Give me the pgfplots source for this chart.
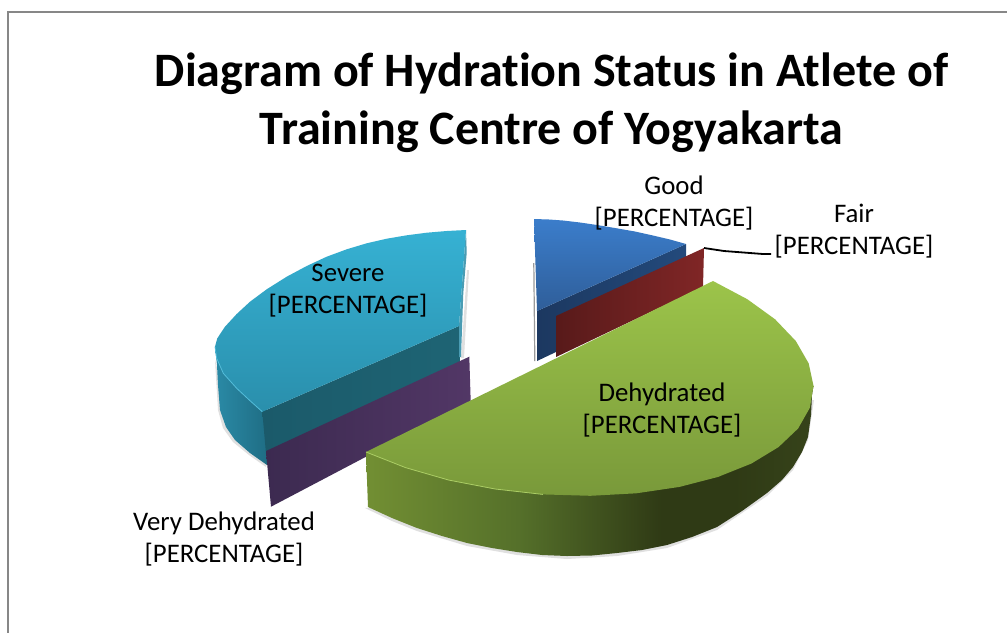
\documentclass[border=0pt]{standalone}
\usepackage{pgfplots}
\pgfplotsset{compat=1.18}
\usepackage{fontspec}
\setmainfont[Ligatures=CommonOff]{Carlito}
\definecolor{gA}{HTML}{728F33}
\definecolor{gB}{HTML}{55702A}
\definecolor{gC}{HTML}{2F3A15}
\definecolor{gD}{HTML}{36431A}
\definecolor{sTop}{HTML}{36B1D3}
\definecolor{sBot}{HTML}{2A8FAC}
\definecolor{sOutL}{HTML}{2A8AA6}
\definecolor{sOutR}{HTML}{1F6D84}
\definecolor{sIn}{HTML}{1B5A6A}
\definecolor{sInR}{HTML}{1E6474}
\definecolor{pL}{HTML}{3C2A50}
\definecolor{pR}{HTML}{523766}
\definecolor{bTop}{HTML}{3B7DCB}
\definecolor{bBot}{HTML}{2F5E99}
\definecolor{bIn}{HTML}{1C3860}
\definecolor{bInR}{HTML}{234A7C}
\definecolor{rL}{HTML}{581A1A}
\definecolor{rR}{HTML}{802626}
\definecolor{grTop}{HTML}{9CC44A}
\definecolor{grBot}{HTML}{79993A}
\pgfdeclarehorizontalshading{greenside}{100bp}{color(0bp)=(gA); color(25bp)=(gA); color(42bp)=(gB); color(58bp)=(gC); color(66bp)=(gC); color(75bp)=(gD); color(100bp)=(gD)}
\begin{document}
\begin{tikzpicture}
\begin{axis}[hide axis, scale only axis, width=1007pt, height=633pt,
  xmin=0, xmax=1007, ymin=0, ymax=633, y dir=reverse]
% page and frame
\addplot[draw=none, fill=white, forget plot] coordinates {(0,0)(1007,0)(1007,633)(0,633)} --cycle;
\addplot[draw=black!47, line width=2pt, forget plot] coordinates {(1007,12)(8,12)(8,633)};

% --- Severe: shadow, outer side, inner wall, thin wall, top
\addplot[draw=none, fill=black!12, forget plot] coordinates {(467,270)(469,270)(464,358)(461,358)} --cycle;
\addplot[draw=none, fill=black!12, forget plot] coordinates {(215,360)(218,410)(223,428)(233,442)(249,455)(266,467)(268,460)(220,380)} --cycle;
\addplot[draw=none, shade, left color=sOutL, right color=sOutR, forget plot] coordinates {(215,346.7)(217,365)(218,385)(220,410)(226,427)(235,440)(250,453)(267,465)(268,412)} --cycle;
\addplot[draw=none, shade, left color=sIn, right color=sInR, forget plot] coordinates {(262.3,411.7)(459,326)(460,362)(266,452)(267,465)} --cycle;
\addplot[draw=none, fill=sOutL!85!white, forget plot] coordinates {(466,230)(466.7,253)(463.3,293)(461,357)(459,357)(459,326)} --cycle;
\addplot[draw=none, shade, top color=sTop, bottom color=sBot, forget plot] coordinates {(466,230)(446.7,231)(426.7,232.7)(406.7,235.3)(386.7,238.7)(366.7,243.3)(346.7,249.3)(326.7,256.7)(306.7,266)(286.7,276.7)(266.7,289.3)(250,301.7)(236.7,314)(225,326.7)(217.3,338.3)(215,346.7)(216.7,358.3)(223.3,373.3)(236.7,388.3)(250,400.7)(262.3,411.7)(459,326)} --cycle;
\addplot[draw=sTop!85!white, line width=0.8pt, forget plot] coordinates {(215,346.7)(216.7,358.3)(223.3,373.3)(236.7,388.3)(250,400.7)(262.3,411.7)};

% --- Very Dehydrated
\addplot[draw=none, shade, left color=pL, right color=pR, forget plot] coordinates {(266,451)(469.3,356.7)(470.7,401.7)(271,506.7)} --cycle;

% --- Good
\addplot[draw=black!40, line width=1.2pt, forget plot] coordinates {(533.8,263)(534.8,361)};
\addplot[draw=none, shade, left color=bIn, right color=bInR, forget plot] coordinates {(537,311)(686,244)(686,262)(556,352)(537,361)} --cycle;
\addplot[draw=none, shade, top color=bTop, bottom color=bBot, forget plot] coordinates {(534,219)(549,219.5)(563,220.5)(580,222.5)(597,225)(615,228)(635,231.5)(653,235.5)(670,239.5)(686,244)(537,311)} --cycle;

% --- Fair
\addplot[draw=none, shade, left color=rL, right color=rR, forget plot] coordinates {(556,316)(704,248)(703,287)(556,357)} --cycle;
\addplot[draw=black, line width=1.8pt, forget plot] coordinates {(704,248)(724,251)(763,254)(771,254)};

% --- Dehydrated
\addplot[draw=none, fill=black!12, forget plot] coordinates {(365,508)(392,521)(417,531)(467,546)(517,555)(567,559)(617,556)(667,548)(717,530)(767,496)(793,470)(808,440)(814,400)(800,400)(500,500)} --cycle;
\addplot[draw=none, shading=greenside, forget plot] coordinates {(368,507)(392,518)(417,528)(442,536)(467,543)(492,548)(517,552)(542,555)(567,556)(592,555.5)(617,553)(642,550)(667,545)(692,537)(717,527)(742,511)(767,493)(782,480)(793,467)(802,452)(808,437)(811,415)(812,395)(813.5,385.8)(366,452)} --cycle;
\addplot[draw=none, shade, top color=grTop, bottom color=grBot, forget plot] coordinates {(713,281)(747.3,299.2)(775.1,319.3)(795.8,341)(808.7,363.4)(813.5,385.8)(809.9,407.7)(798.1,428.5)(778.5,447.1)(751.5,463.5)(718.1,476.9)(679.5,486.9)(636.3,493.3)(590.3,495.8)(542.9,494.4)(495.2,489)(448.9,480.1)(405.5,467.6)(366,452)} --cycle;
\addplot[draw=grTop!85!white, line width=0.8pt, forget plot] coordinates {(366,452)(405.5,467.6)(448.9,480.1)(495.2,489)(542.9,494.4)};

% --- Title and labels
\node[align=center, font=\fontsize{48}{58}\selectfont\bfseries] at (axis cs:551.5,103) {Diagram of Hydration Status in Atlete of\\Training Centre of Yogyakarta};
\node[align=center, font=\fontsize{26.8}{32}\selectfont] at (axis cs:674,203.5) {Good\\{}[PERCENTAGE]};
\node[align=center, font=\fontsize{26.8}{32}\selectfont] at (axis cs:854,231) {Fair\\{}[PERCENTAGE]};
\node[align=center, font=\fontsize{26.8}{32}\selectfont] at (axis cs:348,290.5) {Severe\\{}[PERCENTAGE]};
\node[align=center, font=\fontsize{26.8}{32}\selectfont] at (axis cs:662,410) {Dehydrated\\{}[PERCENTAGE]};
\node[align=center, font=\fontsize{26.8}{32}\selectfont] at (axis cs:224,539.5) {Very Dehydrated\\{}[PERCENTAGE]};
\end{axis}
\end{tikzpicture}
\end{document}
